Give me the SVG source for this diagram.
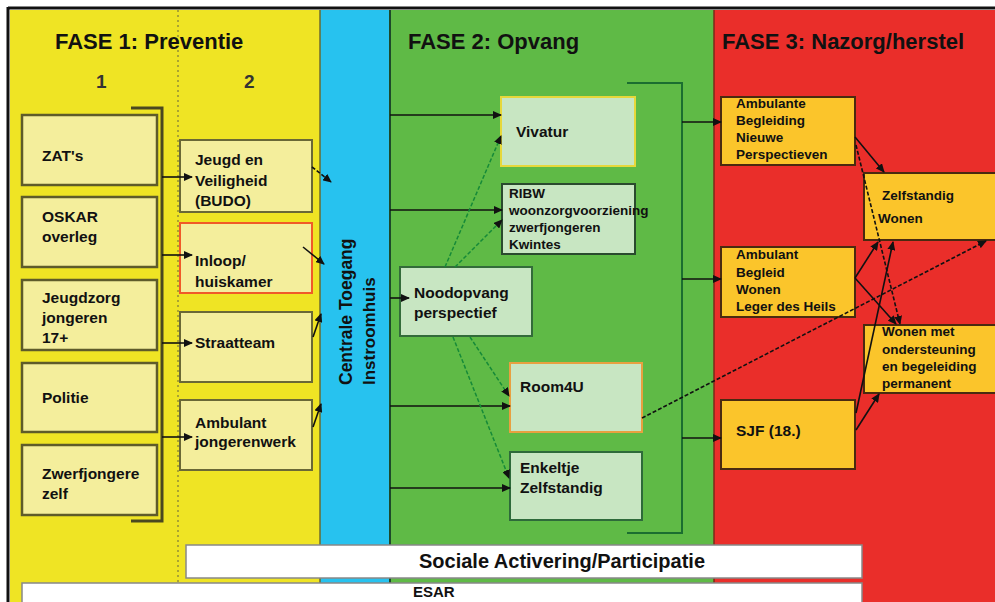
<svg xmlns="http://www.w3.org/2000/svg" width="995" height="602" viewBox="0 0 995 602">
<defs>
<style>
text{font-family:"Liberation Sans",Arial,sans-serif;font-weight:bold;fill:#111}
.t{font-size:22px}
.n{font-size:15.5px}
.s{font-size:13.5px}
.b1{fill:#f4ee9c;stroke:#5e5b2a;stroke-width:2.5}
.b2{fill:#f4ee9c;stroke:#6a6836;stroke-width:2}
.g{fill:#c8e6c2;stroke-width:2}
.r{fill:#fbc52b;stroke:#4a2a10;stroke-width:2}
.a{fill:none;stroke:#111;stroke-width:1.6;marker-end:url(#ah)}
.ad{fill:none;stroke:#111;stroke-width:1.6;stroke-dasharray:4 2;marker-end:url(#ah)}
.gd{fill:none;stroke:#168a38;stroke-width:1.5;stroke-dasharray:4 2;marker-end:url(#ah)}
.gl{fill:none;stroke:#1b6e30;stroke-width:2}
</style>
<marker id="ah" markerWidth="9" markerHeight="8" refX="8" refY="4" orient="auto" markerUnits="userSpaceOnUse">
<path d="M0,0 L9,4 L0,8 Z" fill="#111"/>
</marker>
</defs>
<rect x="0" y="0" width="995" height="602" fill="#fff"/>
<g id="background">
<rect x="10" y="10" width="310" height="592" fill="#efe424"/>
<rect x="320" y="10" width="70" height="592" fill="#27c2ef"/>
<rect x="390" y="10" width="324" height="592" fill="#5fba46"/>
<rect x="714" y="10" width="281" height="592" fill="#ea2e2a"/>
<line x1="320" y1="10" x2="320" y2="602" stroke="#6b6a2e" stroke-width="1.5"/>
<line x1="390" y1="10" x2="390" y2="602" stroke="#1d4a2a" stroke-width="2"/>
<line x1="714" y1="10" x2="714" y2="602" stroke="#7a2a18" stroke-width="1.5"/>
<line x1="178" y1="10" x2="178" y2="602" stroke="#7c7a3a" stroke-width="1.2" stroke-dasharray="2 3"/>
<line x1="8" y1="8" x2="995" y2="8" stroke="#111" stroke-width="3"/>
<line x1="8" y1="7" x2="8" y2="602" stroke="#111" stroke-width="3"/>
</g>
<g id="titles">
<text class="t" x="55" y="49">FASE 1: Preventie</text>
<text x="96" y="88" style="font-size:19px;fill:#333">1</text>
<text x="244" y="88" style="font-size:19px;fill:#333">2</text>
<text class="t" x="408" y="49">FASE 2: Opvang</text>
<text class="t" x="722" y="49">FASE 3: Nazorg/herstel</text>
</g>
<g id="centrale">
<text transform="translate(352,385) rotate(-90)" style="font-size:17.5px">Centrale Toegang</text>
<text transform="translate(375,385) rotate(-90)" style="font-size:17px">Instroomhuis</text>
</g>
<g id="zats"><rect class="b1" x="22" y="115" width="135" height="70"/><text class="n" x="42" y="161">ZAT's</text></g>
<g id="oskar"><rect class="b1" x="22" y="197" width="135" height="70"/><text class="n" x="42" y="222">OSKAR</text><text class="n" x="42" y="242">overleg</text></g>
<g id="jeugdzorg"><rect class="b1" x="22" y="280" width="135" height="70"/><text class="n" x="42" y="303">Jeugdzorg</text><text class="n" x="42" y="323">jongeren</text><text class="n" x="42" y="343">17+</text></g>
<g id="politie"><rect class="b1" x="22" y="363" width="135" height="69"/><text class="n" x="42" y="403">Politie</text></g>
<g id="zwerfjongere"><rect class="b1" x="22" y="445" width="135" height="70"/><text class="n" x="42" y="479">Zwerfjongere</text><text class="n" x="42" y="499">zelf</text></g>
<g id="jeugd-veiligheid"><rect class="b2" x="180" y="140" width="132" height="72"/><text class="n" x="195" y="165">Jeugd en</text><text class="n" x="195" y="186">Veiligheid</text><text class="n" x="195" y="206">(BUDO)</text></g>
<g id="inloop"><rect x="180" y="223" width="132" height="70" fill="#f4ee9c" stroke="#f05a28" stroke-width="2"/><text class="n" x="195" y="266">Inloop/</text><text class="n" x="195" y="287">huiskamer</text></g>
<g id="straatteam"><rect class="b2" x="180" y="312" width="132" height="70"/><text class="n" x="195" y="348">Straatteam</text></g>
<g id="ambulant-jw"><rect class="b2" x="180" y="400" width="132" height="70"/><text class="n" x="195" y="428">Ambulant</text><text class="n" x="195" y="447">jongerenwerk</text></g>
<g id="vivatur"><rect class="g" x="501" y="97" width="134" height="69" stroke="#e6d83a"/><text class="n" x="516" y="137">Vivatur</text></g>
<g id="ribw"><rect class="g" x="502" y="184" width="133" height="70" stroke="#2a4a2e"/><text class="s" x="509" y="198">RIBW</text><text class="s" x="509" y="215">woonzorgvoorziening</text><text class="s" x="509" y="232">zwerfjongeren</text><text class="s" x="509" y="249">Kwintes</text></g>
<g id="noodopvang"><rect class="g" x="400" y="267" width="132" height="69" stroke="#336b3a"/><text class="n" x="414" y="298">Noodopvang</text><text class="n" x="414" y="318">perspectief</text></g>
<g id="room4u"><rect class="g" x="510" y="363" width="132" height="69" stroke="#e8a040" stroke-width="1.5"/><text class="n" x="520" y="392">Room4U</text></g>
<g id="enkeltje"><rect class="g" x="510" y="452" width="132" height="68" stroke="#2e6a3a"/><text class="n" x="520" y="473">Enkeltje</text><text class="n" x="520" y="493">Zelfstandig</text></g>
<g id="ambulante-begeleiding"><rect class="r" x="721" y="97" width="134" height="68"/><text class="s" x="736" y="108">Ambulante</text><text class="s" x="736" y="125">Begleiding</text><text class="s" x="736" y="142">Nieuwe</text><text class="s" x="736" y="159">Perspectieven</text></g>
<g id="ambulant-begeleid-wonen"><rect class="r" x="721" y="247" width="134" height="70"/><text class="s" x="736" y="259">Ambulant</text><text class="s" x="736" y="277">Begleid</text><text class="s" x="736" y="294">Wonen</text><text class="s" x="736" y="311">Leger des Heils</text></g>
<g id="sjf"><rect class="r" x="721" y="400" width="134" height="69"/><text class="n" x="736" y="436">SJF (18.)</text></g>
<g id="zelfstandig-wonen"><rect class="r" x="864" y="173" width="133" height="67"/><text class="s" x="882" y="200">Zelfstandig</text><text class="s" x="878" y="223">Wonen</text></g>
<g id="wonen-met"><rect class="r" x="864" y="325" width="133" height="68"/><text class="s" x="882" y="336">Wonen met</text><text class="s" x="882" y="354">ondersteuning</text><text class="s" x="882" y="371">en begeleiding</text><text class="s" x="882" y="388">permanent</text></g>
<g id="sociale"><rect x="186" y="545" width="676" height="33" fill="#fff" stroke="#888" stroke-width="1.5"/><text x="562" y="568" text-anchor="middle" style="font-size:20px">Sociale Activering/Participatie</text></g>
<g id="esar"><rect x="22" y="583" width="840" height="24" fill="#fff" stroke="#888" stroke-width="1.5"/><text x="413" y="597" style="font-size:15px">ESAR</text></g>
<g id="connectors">
<polyline points="131,108 162,108 162,521 131,521" fill="none" stroke="#4a4820" stroke-width="3"/>
<line class="a" x1="162" y1="177" x2="192" y2="177"/>
<line class="a" x1="162" y1="255" x2="192" y2="255"/>
<line class="a" x1="162" y1="343" x2="192" y2="343"/>
<line class="a" x1="162" y1="437" x2="192" y2="437"/>
<line class="ad" x1="312" y1="167" x2="331" y2="182"/>
<line class="a" x1="303" y1="247" x2="324" y2="264"/>
<line class="a" x1="313" y1="337" x2="321" y2="314"/>
<line class="a" x1="313" y1="427" x2="321" y2="404"/>
<line class="a" x1="390" y1="115" x2="501" y2="115"/>
<line class="a" x1="390" y1="210" x2="502" y2="210"/>
<line class="a" x1="390" y1="298" x2="409" y2="298"/>
<line class="a" x1="390" y1="406" x2="510" y2="406"/>
<line class="a" x1="390" y1="488" x2="510" y2="488"/>
<line class="gd" x1="445" y1="267" x2="501" y2="136"/>
<line class="gd" x1="455" y1="267" x2="502" y2="220"/>
<line class="gd" x1="470" y1="337" x2="509" y2="396"/>
<line class="gd" x1="453" y1="337" x2="509" y2="478"/>
<polyline class="gl" points="627,83 682,83 682,533 627,533"/>
<line class="a" x1="682" y1="122" x2="721" y2="122"/>
<line class="a" x1="682" y1="279" x2="721" y2="279"/>
<line class="a" x1="682" y1="438" x2="721" y2="438"/>
<line class="ad" x1="642" y1="418" x2="986" y2="241"/>
<line class="a" x1="855" y1="137" x2="884" y2="172"/>
<line class="ad" x1="856" y1="145" x2="900" y2="324"/>
<line class="a" x1="855" y1="278" x2="878" y2="242"/>
<line class="a" x1="855" y1="278" x2="896" y2="324"/>
<line class="a" x1="856" y1="413" x2="893" y2="242"/>
<line class="a" x1="856" y1="430" x2="879" y2="394"/>
</g>
</svg>
